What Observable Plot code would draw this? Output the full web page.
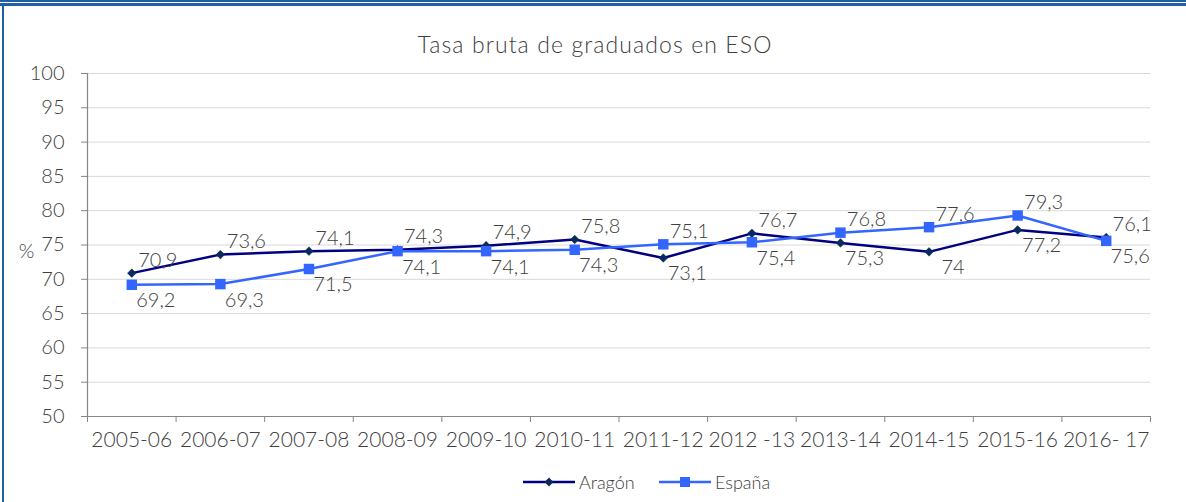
<!DOCTYPE html>
<html><head><meta charset="utf-8">
<script src="https://cdn.jsdelivr.net/npm/d3@7"></script>
<script src="https://cdn.jsdelivr.net/npm/@observablehq/plot@0.6"></script>
<style>
body{margin:0;background:#fff;}
#wrap{position:relative;width:1186px;height:502px;overflow:hidden;background:#fff;font-family:Lato,"Open Sans",sans-serif;font-weight:300;color:#404040;}
.bl{position:absolute;background:#1f5fa6;}
#title{position:absolute;left:0;top:33px;width:1190px;text-align:center;font-size:23px;line-height:23px;letter-spacing:1.1px;}
#chart{position:absolute;left:0;top:60px;}
#chart svg{font-weight:300;}
.leg{position:absolute;top:470px;height:24px;font-size:18px;line-height:24px;display:flex;align-items:center;}
.leg svg{margin-right:4px;}
</style></head><body>
<div id="wrap">
 <div class="bl" style="left:0;top:0;width:1186px;height:2px"></div>
 <div class="bl" style="left:0;top:3px;width:1186px;height:3px"></div>
 <div class="bl" style="left:2px;top:3px;width:2px;height:499px"></div>
 <div id="title">Tasa bruta de graduados en ESO</div>
 <div id="chart"></div>
 <div id="legend"></div>
</div>
<script>
const cursos = ["2005-06","2006-07","2007-08","2008-09","2009-10","2010-11","2011-12","2012 -13","2013-14","2014-15","2015-16","2016- 17"];
const aragon = [70.9, 73.6, 74.1, 74.3, 74.9, 75.8, 73.1, 76.7, 75.3, 74, 77.2, 76.1];
const espana = [69.2, 69.3, 71.5, 74.1, 74.1, 74.3, 75.1, 75.4, 76.8, 77.6, 79.3, 75.6];
const yTicks = [50, 55, 60, 65, 70, 75, 80, 85, 90, 95, 100];
const seriesNames = ["Aragón", "España"];

const lineColor = {"Aragón": "#000080", "España": "#3366ff"};
const markColor = {"Aragón": "#0b2a5c", "España": "#3366ff"};
const fmt = v => String(v).replace(".", ",");

const rowsA = aragon.map((v, i) => ({i, value: v, above: v >= espana[i]}));
const rowsE = espana.map((v, i) => ({i, value: v, above: v > aragon[i]}));
const allRows = rowsA.concat(rowsE);

const chart = Plot.plot({
  width: 1186, height: 400,
  marginLeft: 87, marginRight: 36, marginTop: 13, marginBottom: 44,
  style: {fontFamily: "Lato, 'Open Sans', sans-serif", fontSize: "20px", color: "#404040", background: "transparent", overflow: "visible"},
  x: {type: "linear", domain: [-0.5, cursos.length - 0.5]},
  y: {domain: [50, 100]},
  marks: [
    Plot.gridY(yTicks, {stroke: "#d9d9d9", strokeOpacity: 1, strokeWidth: 1}),
    Plot.axisY(yTicks, {tickSize: 6, tickPadding: 17, stroke: "#868686", fontSize: 20, label: null}),
    Plot.ruleX([-0.5], {stroke: "#868686", strokeWidth: 1.2}),
    Plot.ruleY([50], {stroke: "#868686", strokeWidth: 1.2}),
    Plot.axisX(d3.range(-0.5, cursos.length, 1), {tickSize: 6, tickFormat: () => "", stroke: "#868686", label: null}),
    Plot.axisX(d3.range(cursos.length), {tickSize: 0, tickPadding: 16, tickFormat: i => cursos[i], fontSize: 21, label: null}),
    Plot.line(rowsA, {x: "i", y: "value", stroke: lineColor["Aragón"], strokeWidth: 2.5}),
    Plot.dot(rowsA, {x: "i", y: "value", symbol: "diamond2", r: 3.9, fill: markColor["Aragón"], stroke: markColor["Aragón"], strokeWidth: 0.5}),
    Plot.line(rowsE, {x: "i", y: "value", stroke: lineColor["España"], strokeWidth: 2.5}),
    Plot.dot(rowsE, {x: "i", y: "value", symbol: "square", r: 5.9, fill: markColor["España"]}),
    Plot.text(allRows.filter(d => d.above), {x: "i", y: "value", text: d => fmt(d.value), dx: 26, dy: -13, fontSize: 20, fill: "#404040"}),
    Plot.text(allRows.filter(d => !d.above), {x: "i", y: "value", text: d => fmt(d.value), dx: 24, dy: 16, fontSize: 20, fill: "#404040"}),
    Plot.text(["%"], {frameAnchor: "left", dx: -61, dy: 7, textAnchor: "middle", fontSize: 20, fill: "#404040"})
  ]
});
document.getElementById("chart").appendChild(chart);

// legend
const legend = document.getElementById("legend");
const legLeft = {"Aragón": 523, "España": 659};
seriesNames.forEach(name => {
  const div = document.createElement("div");
  div.className = "leg";
  div.style.left = legLeft[name] + "px";
  const marker = name === "Aragón"
    ? `<path d="M26,7.6L30.4,12L26,16.4L21.6,12Z" fill="${markColor[name]}"/>`
    : `<rect x="21" y="7" width="10" height="10" fill="${markColor[name]}"/>`;
  div.innerHTML = `<svg width="52" height="24"><line x1="0" x2="52" y1="12" y2="12" stroke="${lineColor[name]}" stroke-width="2.5"/>${marker}</svg><span>${name}</span>`;
  legend.appendChild(div);
});
</script>
</body></html>
